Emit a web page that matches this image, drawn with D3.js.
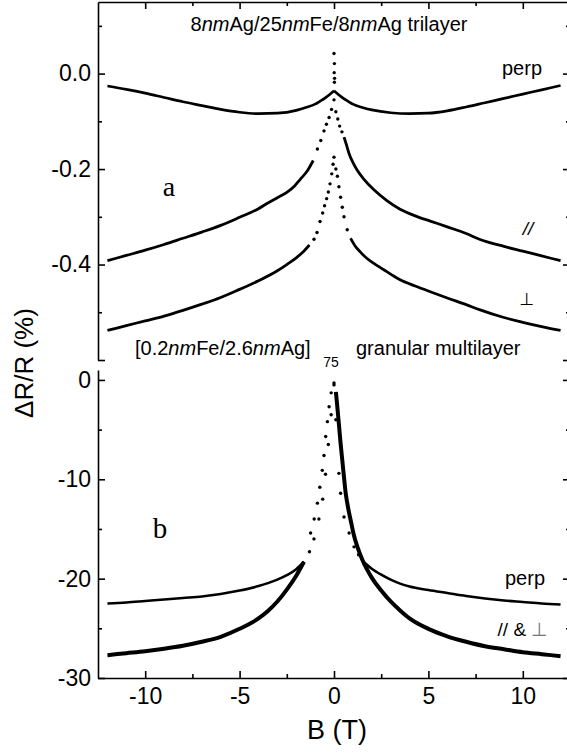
<!DOCTYPE html>
<html>
<head>
<meta charset="utf-8">
<script src="https://d3js.org/d3.v7.min.js"></script>
<style>
  body { margin: 0; background: #fff; }
  text { font-family: "Liberation Sans", Arial, sans-serif; fill: #000; }
</style>
</head>
<body>
<div id="my_dataviz"></div>
<script>
// ----- data (B in tesla, dR/R in %) -----

// panel a: 8nm Ag / 25nm Fe / 8nm Ag trilayer
var topPerpB = [-12,-11,-10,-9,-8,-7,-6,-5,-4,-3,-2,-1.5,-1,-0.75,-0.5,-0.3,-0.15,0,0.15,0.3,0.5,0.75,1,1.5,2,3,4,5,6,7,8,9,10,11,12];
var topPerpY = [-0.026,-0.033,-0.041,-0.050,-0.059,-0.067,-0.075,-0.081,-0.084,-0.083,-0.077,-0.071,-0.064,-0.058,-0.052,-0.046,-0.041,-0.036,-0.041,-0.046,-0.052,-0.058,-0.064,-0.071,-0.076,-0.082,-0.084,-0.083,-0.078,-0.070,-0.061,-0.052,-0.043,-0.034,-0.025];
// scattered points above the perp cusp
var topSpikeB = [0, 0.02, 0.01, 0.03, 0.02];
var topSpikeY = [0.042, 0.021, 0.002, -0.010, -0.018];

var topParB = [-12,-11,-10,-9,-8,-7,-6,-5,-4,-3.5,-3,-2.5,-2.1,-1.8,-1.4,-1.1,-0.88,-0.7,-0.53,-0.4,-0.26,-0.13,0,0.1,0.2,0.3,0.42,0.53,0.65,0.8,1,1.24,1.6,2.1,2.8,3.5,4.3,5.1,6,7,7.7,9,10,11,12];
var topParY = [-0.392,-0.381,-0.370,-0.358,-0.345,-0.332,-0.318,-0.301,-0.283,-0.271,-0.260,-0.249,-0.236,-0.222,-0.203,-0.182,-0.158,-0.140,-0.120,-0.106,-0.092,-0.075,-0.055,-0.080,-0.095,-0.110,-0.122,-0.133,-0.148,-0.168,-0.186,-0.203,-0.222,-0.243,-0.266,-0.284,-0.298,-0.309,-0.321,-0.335,-0.347,-0.362,-0.372,-0.382,-0.392];

var topOrthB = [-12,-11,-10,-9,-8,-7,-6,-5,-4,-3,-2.5,-2,-1.6,-1.3,-1.06,-0.9,-0.74,-0.6,-0.5,-0.39,-0.3,-0.21,-0.12,-0.05,0,0.1,0.18,0.26,0.35,0.44,0.53,0.7,0.88,1.1,1.4,1.77,2.4,3,3.5,4.3,5.1,6,7,7.74,9,10,11,12];
var topOrthY = [-0.538,-0.528,-0.518,-0.508,-0.496,-0.483,-0.469,-0.452,-0.434,-0.413,-0.400,-0.386,-0.372,-0.359,-0.347,-0.333,-0.310,-0.292,-0.277,-0.262,-0.248,-0.231,-0.210,-0.190,-0.175,-0.200,-0.215,-0.237,-0.259,-0.280,-0.300,-0.327,-0.345,-0.360,-0.374,-0.388,-0.405,-0.420,-0.432,-0.445,-0.457,-0.470,-0.484,-0.495,-0.511,-0.521,-0.530,-0.538];

// panel b: [0.2nm Fe / 2.6nm Ag]75 granular multilayer
var botPerpB = [-12,-11,-10,-9,-8,-7,-6,-5,-4,-3.5,-3,-2.5,-2,-1.59,-1.3,-1.06,-0.8,-0.6,-0.45,-0.3,-0.15,0,0.1,0.26,0.35,0.53,0.8,1.06,1.3,1.5,2,2.5,3,3.5,4,5,6,7,8,9,10,11,12];
var botPerpY = [-22.5,-22.4,-22.25,-22.1,-21.95,-21.8,-21.55,-21.2,-20.75,-20.45,-20.1,-19.65,-19.05,-18.3,-17.3,-16.0,-14.0,-12.0,-9.5,-6.5,-3.5,-0.5,-4.0,-9.4,-11.4,-13.8,-15.4,-16.8,-17.6,-18.2,-19.0,-19.6,-20.1,-20.5,-20.8,-21.15,-21.45,-21.75,-22.0,-22.2,-22.35,-22.5,-22.6];

var botParB = [-12,-11,-10,-9,-8,-7,-6,-5,-4,-3.5,-3,-2.5,-2,-1.59,-1.24,-1.05,-0.88,-0.75,-0.62,-0.53,-0.44,-0.35,-0.26,-0.15,0,0.1,0.18,0.27,0.35,0.44,0.53,0.62,0.75,0.88,1.05,1.24,1.5,2,2.5,3,3.5,4,5,6,7,8,9,10,11,12];
var botParY = [-27.7,-27.5,-27.3,-27.05,-26.75,-26.35,-25.85,-25.05,-24.0,-23.25,-22.3,-21.1,-19.7,-18.3,-15.4,-14.0,-12.4,-10.8,-9.1,-7.6,-5.7,-4.2,-2.7,-1.3,-0.3,-1.2,-2.8,-4.7,-6.4,-8.1,-9.8,-11.4,-12.9,-14.1,-15.6,-16.8,-18.1,-19.9,-21.2,-22.3,-23.2,-24.0,-25.05,-25.8,-26.35,-26.8,-27.1,-27.4,-27.6,-27.8];

// tick values
var xMajor = [-10, -5, 0, 5, 10], xMinor = [-7.5, -2.5, 2.5, 7.5];
var topMajor = [0, -0.2, -0.4, -0.6], topMinor = [0.1, -0.1, -0.3, -0.5];
var botMajor = [0, -10, -20, -30], botMinor = [-5, -15, -25];

// ----- setup -----
var width = 567, height = 753;

var svg = d3.select("#my_dataviz")
  .append("svg")
    .attr("width", width)
    .attr("height", height);

var x = d3.scaleLinear().domain([-12.5, 12.5]).range([98, 570]);
var yTop = d3.scaleLinear().domain([-0.6, 0.15]).range([360, 2]);
var yBot = d3.scaleLinear().domain([-30, 1]).range([678, 370]);

function noLabel() { return ""; }

// draws one frame side: major + minor ticks, all pointing inward
function addAxis(axisFn, scale, pos, major, minor, fmt, pad) {
  var g = svg.append("g").attr("transform", pos);
  g.call(axisFn(scale)
      .tickValues(major)
      .tickSizeInner(-7)
      .tickSizeOuter(0)
      .tickPadding(pad || 7)
      .tickFormat(fmt || noLabel));
  g.append("g")
    .call(axisFn(scale).tickValues(minor).tickSizeInner(-4).tickSizeOuter(0).tickFormat(noLabel))
    .select(".domain").remove();
  g.attr("font-size", 23);
  g.selectAll("path, line").attr("stroke", "#000").attr("stroke-width", 1.6);
  return g;
}

// panel a frame
addAxis(d3.axisLeft, yTop, "translate(98,0)", topMajor, topMinor,
  function(d) { return d === -0.6 ? "" : d.toFixed(1); });
addAxis(d3.axisRight, yTop, "translate(570,0)", topMajor, topMinor);
addAxis(d3.axisTop, x, "translate(0,2)", xMajor, xMinor);

// panel b frame
addAxis(d3.axisLeft, yBot, "translate(98,0)", botMajor, botMinor, String);
addAxis(d3.axisRight, yBot, "translate(570,0)", botMajor, botMinor);
addAxis(d3.axisBottom, x, "translate(0,678)", xMajor, xMinor, String, 10);

// ----- curves -----
// points with lo < B < hi are sparse in the measurement, drawn as dots
var series = [
  {B: topPerpB, Y: topPerpY, y: yTop, lo: 0, hi: 0, w: 2.7},
  {B: topParB, Y: topParY, y: yTop, lo: -1.05, hi: 0.45, w: 2.8},
  {B: topOrthB, Y: topOrthY, y: yTop, lo: -1.1, hi: 0.85, w: 2.8},
  {B: botPerpB, Y: botPerpY, y: yBot, lo: -1.5, hi: 1.4, w: 2.6},
  {B: botParB, Y: botParY, y: yBot, lo: -1.5, hi: 0.05, w: 4}
];

var curves = svg.append("g");

series.forEach(function(s) {
  var pts = s.B.map(function(b, i) { return {b: b, v: s.Y[i]}; });
  var line = d3.line()
    .x(function(d) { return x(d.b); })
    .y(function(d) { return s.y(d.v); })
    .curve(d3.curveMonotoneX);

  var left = pts.filter(function(d) { return d.b <= s.lo; });
  var right = pts.filter(function(d) { return d.b >= s.hi; });
  var mid = pts.filter(function(d) { return d.b > s.lo && d.b < s.hi; });

  [left, right].forEach(function(part) {
    curves.append("path")
      .datum(part)
      .attr("fill", "none")
      .attr("stroke", "#000")
      .attr("stroke-width", s.w)
      .attr("stroke-linejoin", "round")
      .attr("d", line);
  });

  curves.selectAll(null)
    .data(mid)
    .enter().append("circle")
      .attr("cx", function(d) { return x(d.b); })
      .attr("cy", function(d) { return s.y(d.v); })
      .attr("r", 1.7)
      .attr("fill", "#000");
});

curves.selectAll(null)
  .data(topSpikeB)
  .enter().append("circle")
    .attr("cx", function(d) { return x(d); })
    .attr("cy", function(d, i) { return yTop(topSpikeY[i]); })
    .attr("r", 1.7)
    .attr("fill", "#000");

// ----- labels -----
function richText(px, py, parts, size, anchor) {
  var t = svg.append("text")
    .attr("x", px)
    .attr("y", py)
    .attr("font-size", size)
    .attr("text-anchor", anchor || "start");
  parts.forEach(function(p) {
    t.append("tspan")
      .attr("font-style", p[1] ? "italic" : null)
      .attr("fill", p[2] || null)
      .text(p[0]);
  });
  return t;
}

richText(329, 31, [["8"], ["nm", 1], ["Ag/25"], ["nm", 1], ["Fe/8"], ["nm", 1], ["Ag trilayer"]], 20, "middle");
richText(522, 75, [["perp"]], 20, "middle");
richText(528, 235, [["//", 1]], 19, "middle");
richText(527, 305, [["\u22A5"]], 17, "middle").style("font-family", "DejaVu Sans");
richText(169, 196, [["a"]], 28, "middle").style("font-family", "Liberation Serif");

richText(135, 355, [["[0.2"], ["nm", 1], ["Fe/2.6"], ["nm", 1], ["Ag]"]], 20);
richText(331, 367, [["75"]], 14, "middle");
richText(356, 355, [["granular multilayer"]], 20);
richText(160, 538, [["b"]], 29, "middle").style("font-family", "Liberation Serif");
richText(525, 585, [["perp"]], 20, "middle");
richText(523, 636, [["// & ", 0], ["\u22A5", 0, "#777"]], 19, "middle");

// axis titles
richText(337, 739, [["B (T)"]], 27, "middle");
svg.append("text")
  .attr("transform", "translate(33,363) rotate(-90)")
  .attr("text-anchor", "middle")
  .attr("font-size", 26)
  .text("\u0394R/R (%)");
</script>
</body>
</html>
